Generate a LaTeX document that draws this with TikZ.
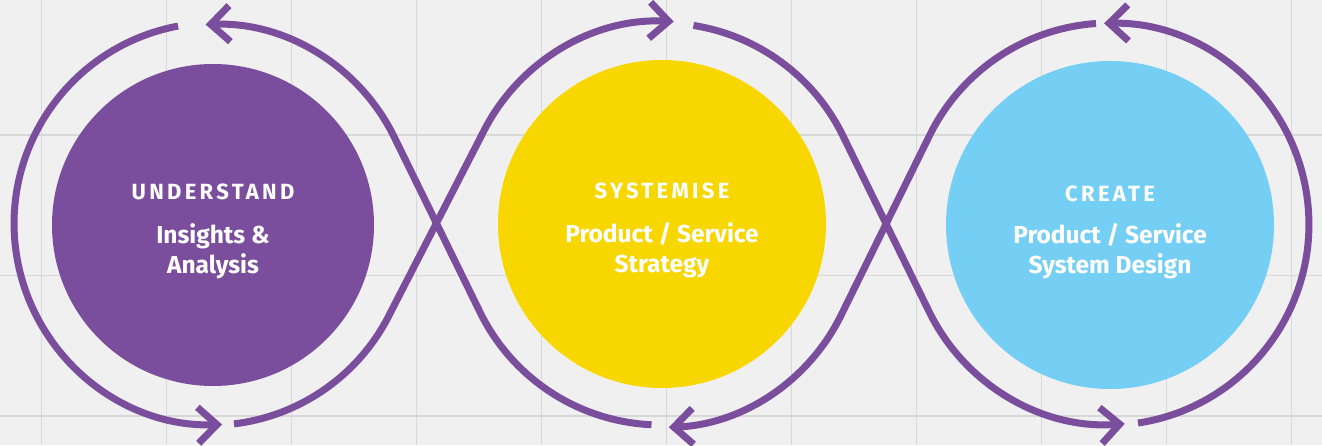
\documentclass[tikz,border=0pt]{standalone}
\usepackage{fontspec}
\setmainfont{Fira Sans}
\newfontfamily\headfont{Fira Sans}[LetterSpace=15]
\usetikzlibrary{arrows.meta}

\definecolor{loopviolet}{HTML}{7A4E9C}
\definecolor{stageyellow}{HTML}{F8D700}
\definecolor{stageblue}{HTML}{75CFF4}
\definecolor{paper}{HTML}{F0F0F0}
\definecolor{gridgray}{HTML}{D8D8D8}

\tikzset{
  stage/.style={circle, minimum size=#1, inner sep=0pt, outer sep=0pt},
  track/.style={circle, minimum size=402pt, inner sep=0pt, outer sep=0pt},
  loopline/.style={loopviolet, line width=7pt},
  looparrow/.style={loopline, -{Straight Barb[length=19pt, width=36pt]}},
  headtext/.style={text=white, font=\headfont\bfseries\fontsize{22}{26}\selectfont},
  bodytext/.style={text=white, align=center, font=\bfseries\fontsize{24.5}{30}\selectfont},
}

\begin{document}
\begin{tikzpicture}[x=1pt, y=1pt]
    \fill[paper] (0,0) rectangle (1322,445);
    \useasboundingbox (0,0) rectangle (1322,445);
    % background grid
    \foreach \gx in {41.5,166.5,...,1291.5}
        \draw[gridgray, line width=1.5pt] (\gx,0) -- (\gx,445);
    \foreach \gy in {29,169.5,310}
        \draw[gridgray, line width=1.5pt] (0,\gy) -- (1322,\gy);
    % the three stages
    \node[stage=322pt, fill=loopviolet] (understand) at (213,220) {};
    \node[stage=328pt, fill=stageyellow] (systemise) at (662,221) {};
    \node[stage=328pt, fill=stageblue] (create) at (1110,220) {};
    \node[headtext] (understand-head) at ([yshift=33pt]understand.center) {UNDERSTAND};
    \node[bodytext] (understand-body) at ([yshift=-26pt]understand.center) {Insights \&\\Analysis};
    \node[headtext] (systemise-head) at ([yshift=33pt]systemise.center) {SYSTEMISE};
    \node[bodytext] (systemise-body) at ([yshift=-26pt]systemise.center) {Product / Service\\Strategy};
    \node[headtext] (create-head) at ([yshift=31pt]create.center) {CREATE};
    \node[bodytext] (create-body) at ([yshift=-26pt]create.center) {Product / Service\\System Design};
    % invisible tracks the loop runs on
    \node[track] (lt) at (213,221) {};
    \node[track] (mt) at (662,221) {};
    \node[track] (rt) at (1110,221) {};
    % the loop, in six pieces
    \draw[looparrow] (lt.100.6) arc[start angle=100.6, end angle=272, radius=201pt];
    \draw[looparrow] (lt.276.9) arc[start angle=276.9, end angle=333.55, radius=201pt]
        -- (mt.153.55) arc[start angle=153.55, end angle=86.9, radius=201pt];
    \draw[looparrow] (mt.81.1) arc[start angle=81.1, end angle=26.2, radius=201pt]
        -- (rt.206.2) arc[start angle=206.2, end angle=274.3, radius=201pt];
    \draw[looparrow] (rt.278.6) arc[start angle=278.6, end angle=451.1, radius=201pt];
    \draw[looparrow] (rt.94) arc[start angle=94, end angle=153.8, radius=201pt]
        -- (mt.333.8) arc[start angle=333.8, end angle=272.3, radius=201pt];
    \draw[looparrow] (mt.267.4) arc[start angle=267.4, end angle=206.45, radius=201pt]
        -- (lt.26.45) arc[start angle=26.45, end angle=92.3, radius=201pt];
\end{tikzpicture}
\end{document}
